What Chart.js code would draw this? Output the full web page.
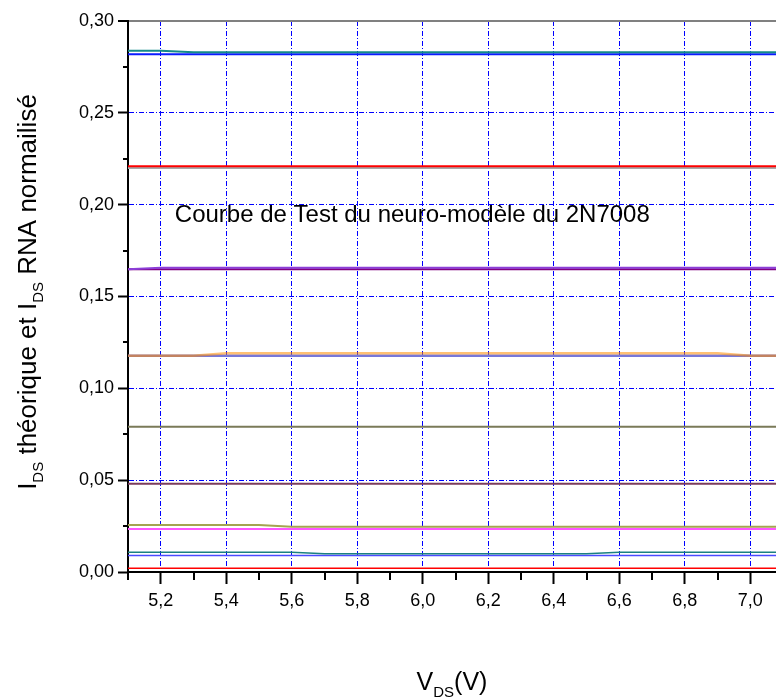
<!DOCTYPE html>
<html lang="fr">
<head>
    <meta charset="UTF-8">
    <title>Courbe de Test du neuro-modèle du 2N7008</title>
    <script src="https://cdn.jsdelivr.net/npm/chart.js"></script>
    <style>
        body {
            margin: 0;
            background: #ffffff;
            overflow: hidden;
        }
        .chart-box {
            position: relative;
            width: 800px;
            height: 697px;
        }
    </style>
</head>
<body>
    <div class="chart-box">
        <canvas id="idsChart"></canvas>
    </div>

    <script>
        // V_DS sample points (V)
        const vds = [5.1, 5.2, 5.3, 5.4, 5.5, 5.6, 5.7, 5.8, 5.9, 6.0, 6.1, 6.2, 6.3, 6.4, 6.5, 6.6, 6.7, 6.8, 6.9, 7.0, 7.1];

        // I_DS curves, normalised (theoretical and ANN output)
        const idsTealTop  = [0.2838, 0.2838, 0.2830, 0.2830, 0.2830, 0.2830, 0.2830, 0.2830, 0.2830, 0.2830, 0.2830, 0.2830, 0.2830, 0.2830, 0.2830, 0.2830, 0.2830, 0.2830, 0.2830, 0.2830, 0.2830];
        const idsBlueTop  = [0.2819, 0.2819, 0.2819, 0.2819, 0.2819, 0.2819, 0.2819, 0.2819, 0.2819, 0.2819, 0.2819, 0.2819, 0.2819, 0.2819, 0.2819, 0.2819, 0.2819, 0.2819, 0.2819, 0.2819, 0.2819];
        const idsRed      = [0.2209, 0.2209, 0.2209, 0.2209, 0.2209, 0.2209, 0.2209, 0.2209, 0.2209, 0.2209, 0.2209, 0.2209, 0.2209, 0.2209, 0.2209, 0.2209, 0.2209, 0.2209, 0.2209, 0.2209, 0.2209];
        const idsGray     = [0.2200, 0.2200, 0.2200, 0.2200, 0.2200, 0.2200, 0.2200, 0.2200, 0.2200, 0.2200, 0.2200, 0.2200, 0.2200, 0.2200, 0.2200, 0.2200, 0.2200, 0.2200, 0.2200, 0.2200, 0.2200];
        const idsViolet   = [0.1648, 0.1657, 0.1657, 0.1657, 0.1657, 0.1657, 0.1657, 0.1657, 0.1657, 0.1657, 0.1657, 0.1657, 0.1657, 0.1657, 0.1657, 0.1657, 0.1657, 0.1657, 0.1657, 0.1657, 0.1657];
        const idsPurple   = [0.1648, 0.1648, 0.1648, 0.1648, 0.1648, 0.1648, 0.1648, 0.1648, 0.1648, 0.1648, 0.1648, 0.1648, 0.1648, 0.1648, 0.1648, 0.1648, 0.1648, 0.1648, 0.1648, 0.1648, 0.1648];
        const idsOrange   = [0.1178, 0.1178, 0.1178, 0.1191, 0.1191, 0.1191, 0.1191, 0.1191, 0.1191, 0.1191, 0.1191, 0.1191, 0.1191, 0.1191, 0.1191, 0.1191, 0.1191, 0.1191, 0.1191, 0.1178, 0.1178];
        const idsSlate    = [0.1178, 0.1178, 0.1178, 0.1178, 0.1178, 0.1178, 0.1178, 0.1178, 0.1178, 0.1178, 0.1178, 0.1178, 0.1178, 0.1178, 0.1178, 0.1178, 0.1178, 0.1178, 0.1178, 0.1178, 0.1178];
        const idsOlive    = [0.0791, 0.0791, 0.0791, 0.0791, 0.0791, 0.0791, 0.0791, 0.0791, 0.0791, 0.0791, 0.0791, 0.0791, 0.0791, 0.0791, 0.0791, 0.0791, 0.0791, 0.0791, 0.0791, 0.0791, 0.0791];
        const idsMaroon   = [0.0481, 0.0481, 0.0481, 0.0481, 0.0481, 0.0481, 0.0481, 0.0481, 0.0481, 0.0481, 0.0481, 0.0481, 0.0481, 0.0481, 0.0481, 0.0481, 0.0481, 0.0481, 0.0481, 0.0481, 0.0481];
        const idsKhaki    = [0.0256, 0.0256, 0.0256, 0.0256, 0.0256, 0.0247, 0.0247, 0.0247, 0.0247, 0.0247, 0.0247, 0.0247, 0.0247, 0.0247, 0.0247, 0.0247, 0.0247, 0.0247, 0.0247, 0.0247, 0.0247];
        const idsMagenta  = [0.0234, 0.0234, 0.0234, 0.0234, 0.0234, 0.0234, 0.0234, 0.0234, 0.0234, 0.0234, 0.0234, 0.0234, 0.0234, 0.0234, 0.0234, 0.0234, 0.0234, 0.0234, 0.0234, 0.0234, 0.0234];
        const idsTealLow  = [0.0107, 0.0107, 0.0107, 0.0107, 0.0107, 0.0107, 0.0100, 0.0100, 0.0100, 0.0100, 0.0100, 0.0100, 0.0100, 0.0100, 0.0100, 0.0107, 0.0107, 0.0107, 0.0107, 0.0107, 0.0107];
        const idsBlueLow  = [0.0090, 0.0090, 0.0090, 0.0090, 0.0090, 0.0090, 0.0090, 0.0090, 0.0090, 0.0090, 0.0090, 0.0090, 0.0090, 0.0090, 0.0090, 0.0090, 0.0090, 0.0090, 0.0090, 0.0090, 0.0090];
        const idsRedLow   = [0.0020, 0.0020, 0.0020, 0.0020, 0.0020, 0.0020, 0.0020, 0.0020, 0.0020, 0.0020, 0.0020, 0.0020, 0.0020, 0.0020, 0.0020, 0.0020, 0.0020, 0.0020, 0.0020, 0.0020, 0.0020];

        // axis ticks
        const xTickValues = [5.2, 5.4, 5.6, 5.8, 6.0, 6.2, 6.4, 6.6, 6.8, 7.0];
        const xTickLabels = ['5,2', '5,4', '5,6', '5,8', '6,0', '6,2', '6,4', '6,6', '6,8', '7,0'];
        const xMinorTicks = [5.1, 5.3, 5.5, 5.7, 5.9, 6.1, 6.3, 6.5, 6.7, 6.9];
        const yTickValues = [0, 0.05, 0.10, 0.15, 0.20, 0.25, 0.30];
        const yTickLabels = ['0,00', '0,05', '0,10', '0,15', '0,20', '0,25', '0,30'];
        const yMinorTicks = [0.025, 0.075, 0.125, 0.175, 0.225, 0.275];

        const noteText = 'Courbe de Test du neuro-modèle du 2N7008';
        const xTitle = [['V', false], ['DS', true], ['(V)', false]];
        const yTitle = [['I', false], ['DS', true], [' théorique et I', false], ['DS', true], [' RNA normailisé', false]];

        const FONT = '"Liberation Sans", Arial, sans-serif';

        function series(values, color, width) {
            return {
                data: vds.map((v, i) => ({ x: v, y: values[i] })),
                borderColor: color,
                borderWidth: width,
                pointRadius: 0,
                tension: 0,
                fill: false
            };
        }

        // text with subscripts, centred on the current origin
        function drawRich(ctx, parts, size, subSize, subDrop) {
            let total = 0;
            parts.forEach(([t, sub]) => {
                ctx.font = (sub ? subSize : size) + 'px ' + FONT;
                total += ctx.measureText(t).width;
            });
            let cx = -total / 2;
            parts.forEach(([t, sub]) => {
                ctx.font = (sub ? subSize : size) + 'px ' + FONT;
                ctx.fillText(t, cx, sub ? subDrop : 0);
                cx += ctx.measureText(t).width;
            });
        }

        const extras = {
            id: 'extras',
            afterDraw(chart) {
                const { ctx, chartArea, scales: { x, y } } = chart;
                ctx.save();

                // minor ticks
                ctx.strokeStyle = '#000';
                ctx.lineWidth = 2;
                ctx.beginPath();
                xMinorTicks.forEach(v => {
                    const px = Math.round(x.getPixelForValue(v));
                    ctx.moveTo(px, chartArea.bottom);
                    ctx.lineTo(px, chartArea.bottom + 8);
                });
                yMinorTicks.forEach(v => {
                    const py = Math.round(y.getPixelForValue(v));
                    ctx.moveTo(chartArea.left - 5, py);
                    ctx.lineTo(chartArea.left, py);
                });
                ctx.stroke();

                ctx.fillStyle = '#000';
                ctx.textBaseline = 'alphabetic';
                ctx.textAlign = 'left';

                // label inside the plot
                ctx.font = '24px ' + FONT;
                ctx.fillText(noteText, x.getPixelForValue(5.243), y.getPixelForValue(0.1903));

                // axis titles
                ctx.save();
                ctx.translate(452, 690);
                drawRich(ctx, xTitle, 25, 15, 7);
                ctx.restore();

                ctx.save();
                ctx.translate(36, 292);
                ctx.rotate(-Math.PI / 2);
                drawRich(ctx, yTitle, 26, 15, 7);
                ctx.restore();

                ctx.restore();
            }
        };

        const gridDash = [5, 2, 1, 2];

        const ctx = document.getElementById('idsChart').getContext('2d');
        const idsChart = new Chart(ctx, {
            type: 'line',
            data: {
                datasets: [
                    series(idsTealTop, '#138a8a', 2),
                    series(idsBlueTop, '#0a1aff', 2),
                    series(idsRed, '#ff0000', 2),
                    series(idsGray, '#a8a8a8', 2),
                    series(idsViolet, '#8c3fd8', 2),
                    series(idsPurple, '#800080', 2),
                    series(idsOrange, 'rgba(255,140,0,0.55)', 2.5),
                    series(idsSlate, '#7878d8', 2.5),
                    series(idsOlive, '#7a7a58', 2),
                    series(idsMaroon, '#7a3c5c', 2),
                    series(idsKhaki, '#a4a450', 2),
                    series(idsMagenta, '#ff55ff', 2),
                    series(idsTealLow, '#1a8080', 1.5),
                    series(idsBlueLow, '#4a4aff', 1.5),
                    series(idsRedLow, '#ff0000', 1.5)
                ]
            },
            options: {
                responsive: true,
                maintainAspectRatio: false,
                animation: false,
                layout: { padding: { top: 21, right: 17, left: 0, bottom: 0 } },
                plugins: {
                    legend: { display: false },
                    tooltip: { enabled: false }
                },
                scales: {
                    x: {
                        type: 'linear',
                        min: 5.1,
                        max: 7.1,
                        afterBuildTicks: s => { s.ticks = xTickValues.map(v => ({ value: v })); },
                        afterFit: s => { s.height = 125; },
                        ticks: {
                            autoSkip: false,
                            maxRotation: 0,
                            padding: 6,
                            color: '#000',
                            font: { family: FONT, size: 18 },
                            callback: (v, i) => xTickLabels[i]
                        },
                        grid: {
                            color: '#0000ff',
                            lineWidth: 1,
                            tickLength: 12,
                            tickWidth: 2,
                            tickColor: '#000'
                        },
                        border: { color: '#000', width: 2, dash: gridDash }
                    },
                    y: {
                        type: 'linear',
                        min: 0,
                        max: 0.30,
                        afterBuildTicks: s => { s.ticks = yTickValues.map(v => ({ value: v })); },
                        afterFit: s => { s.width = 128; },
                        ticks: {
                            autoSkip: false,
                            padding: 4,
                            color: '#000',
                            font: { family: FONT, size: 18 },
                            callback: (v, i) => yTickLabels[i]
                        },
                        grid: {
                            color: c => c.tick && c.tick.value === 0 ? 'rgba(0,0,0,0)' : (c.tick && c.tick.value > 0.29 ? '#808080' : '#0000ff'),
                            lineWidth: c => c.tick && c.tick.value > 0.29 ? 2 : 1,
                            tickLength: 10,
                            tickWidth: 2,
                            tickColor: '#000'
                        },
                        border: {
                            color: '#000',
                            width: 2,
                            dash: c => c.tick && c.tick.value > 0.29 ? [] : gridDash
                        }
                    }
                }
            },
            plugins: [extras]
        });
    </script>
</body>
</html>
